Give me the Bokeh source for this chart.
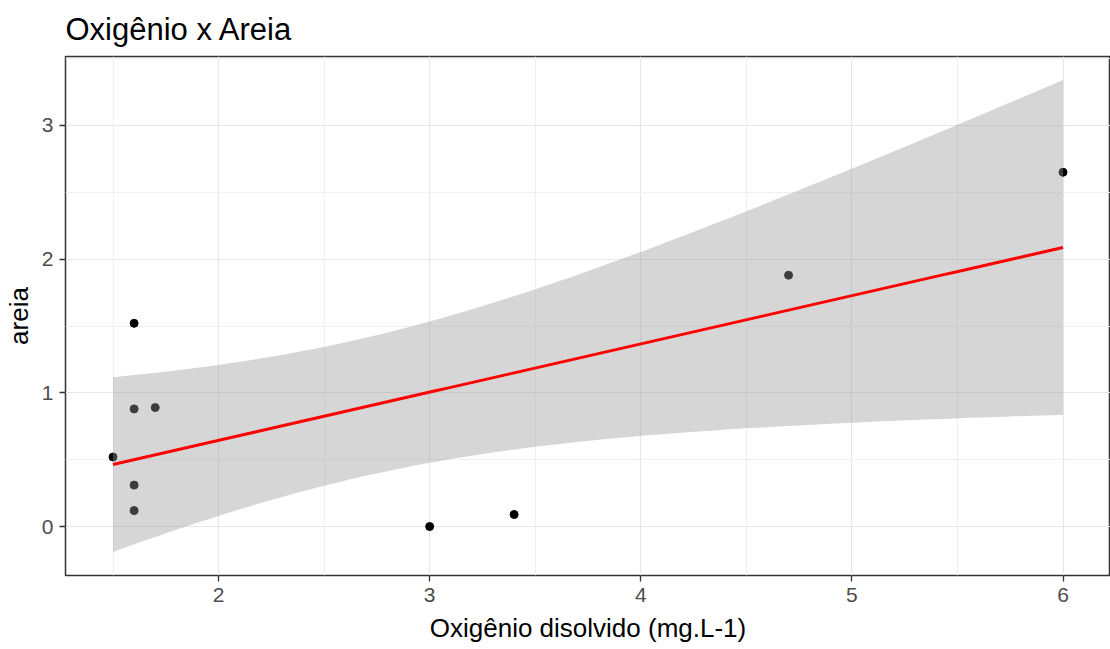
import numpy as np
from bokeh.plotting import figure
from bokeh.models import FixedTicker, ColumnDataSource, Range1d
from bokeh.embed import file_html
from bokeh.resources import INLINE

# data
oxigenio = [1.5, 1.6, 1.6, 1.7, 1.6, 1.6, 3.0, 3.4, 4.7, 6.0]
areia = [0.52, 1.52, 0.88, 0.89, 0.31, 0.12, 0.00, 0.09, 1.88, 2.65]
x_ticks = [2, 3, 4, 5, 6]
x_minor = [1.5, 2.5, 3.5, 4.5, 5.5]
y_ticks = [0, 1, 2, 3]
y_minor = [-0.5, 0.5, 1.5, 2.5, 3.5]
t_975_df8 = 2.306004

# linear model fit with 95% confidence band (as geom_smooth(method="lm"))
x = np.array(oxigenio)
y = np.array(areia)
n = len(x)
xbar, ybar = x.mean(), y.mean()
sxx = ((x - xbar) ** 2).sum()
slope = ((x - xbar) * (y - ybar)).sum() / sxx
intercept = ybar - slope * xbar
resid = y - (intercept + slope * x)
s = np.sqrt((resid ** 2).sum() / (n - 2))
xs = np.linspace(x.min(), x.max(), 80)
fit = intercept + slope * xs
se = s * np.sqrt(1 / n + (xs - xbar) ** 2 / sxx)
lo = fit - t_975_df8 * se
hi = fit + t_975_df8 * se

xmin, xmax = x.min(), x.max()
ymin, ymax = min(y.min(), lo.min()), max(y.max(), hi.max())
xpad = 0.05 * (xmax - xmin)
ypad = 0.05 * (ymax - ymin)

FONT = "Liberation Sans"

p = figure(width=1110, height=649, output_backend="svg", toolbar_location=None,
           x_range=Range1d(xmin - xpad, xmax + xpad),
           y_range=Range1d(ymin - ypad, ymax + ypad),
           title="Oxigênio x Areia",
           min_border_left=65, min_border_right=0, min_border_top=56, min_border_bottom=74)

p.title.text_font = FONT
p.title.text_font_size = "31px"
p.title.text_font_style = "normal"
p.title.text_color = "black"
p.title.align = "left"
p.title.standoff = 19

p.background_fill_color = "white"
p.border_fill_color = "white"
p.outline_line_color = "#333333"
p.outline_line_width = 1.5

p.xaxis.ticker = FixedTicker(ticks=x_ticks, minor_ticks=x_minor)
p.yaxis.ticker = FixedTicker(ticks=y_ticks, minor_ticks=y_minor)

for ax in (p.xaxis, p.yaxis):
    ax.axis_line_color = None
    ax.major_tick_line_color = "#333333"
    ax.major_tick_line_width = 1.3
    ax.major_tick_in = 0
    ax.major_tick_out = 6
    ax.minor_tick_line_color = None
    ax.major_label_text_font = FONT
    ax.major_label_text_font_size = "21px"
    ax.major_label_text_color = "#4d4d4d"
    ax.axis_label_text_font = FONT
    ax.axis_label_text_font_size = "26px"
    ax.axis_label_text_font_style = "normal"
    ax.axis_label_text_color = "black"

p.xaxis.axis_label = "Oxigênio disolvido (mg.L-1)"
p.yaxis.axis_label = "areia"
p.xaxis.major_label_standoff = 6
p.yaxis.major_label_standoff = 6
p.xaxis.axis_label_standoff = 8
p.yaxis.axis_label_standoff = 5

p.xgrid.grid_line_color = "#e6e6e6"
p.ygrid.grid_line_color = "#e6e6e6"
p.xgrid.grid_line_width = 1.2
p.ygrid.grid_line_width = 1.2
p.xgrid.minor_grid_line_color = "#f0f0f0"
p.ygrid.minor_grid_line_color = "#f0f0f0"
p.xgrid.minor_grid_line_width = 1
p.ygrid.minor_grid_line_width = 1

pts = ColumnDataSource(dict(x=oxigenio, y=areia))
band = ColumnDataSource(dict(x=xs, lo=lo, hi=hi, fit=fit))

p.scatter("x", "y", source=pts, size=8, color="black")
p.varea(x="x", y1="lo", y2="hi", source=band, fill_color="#999999", fill_alpha=0.4)
p.line("x", "fit", source=band, line_color="red", line_width=3)

open("out.html", "w").write(file_html(p, INLINE))
